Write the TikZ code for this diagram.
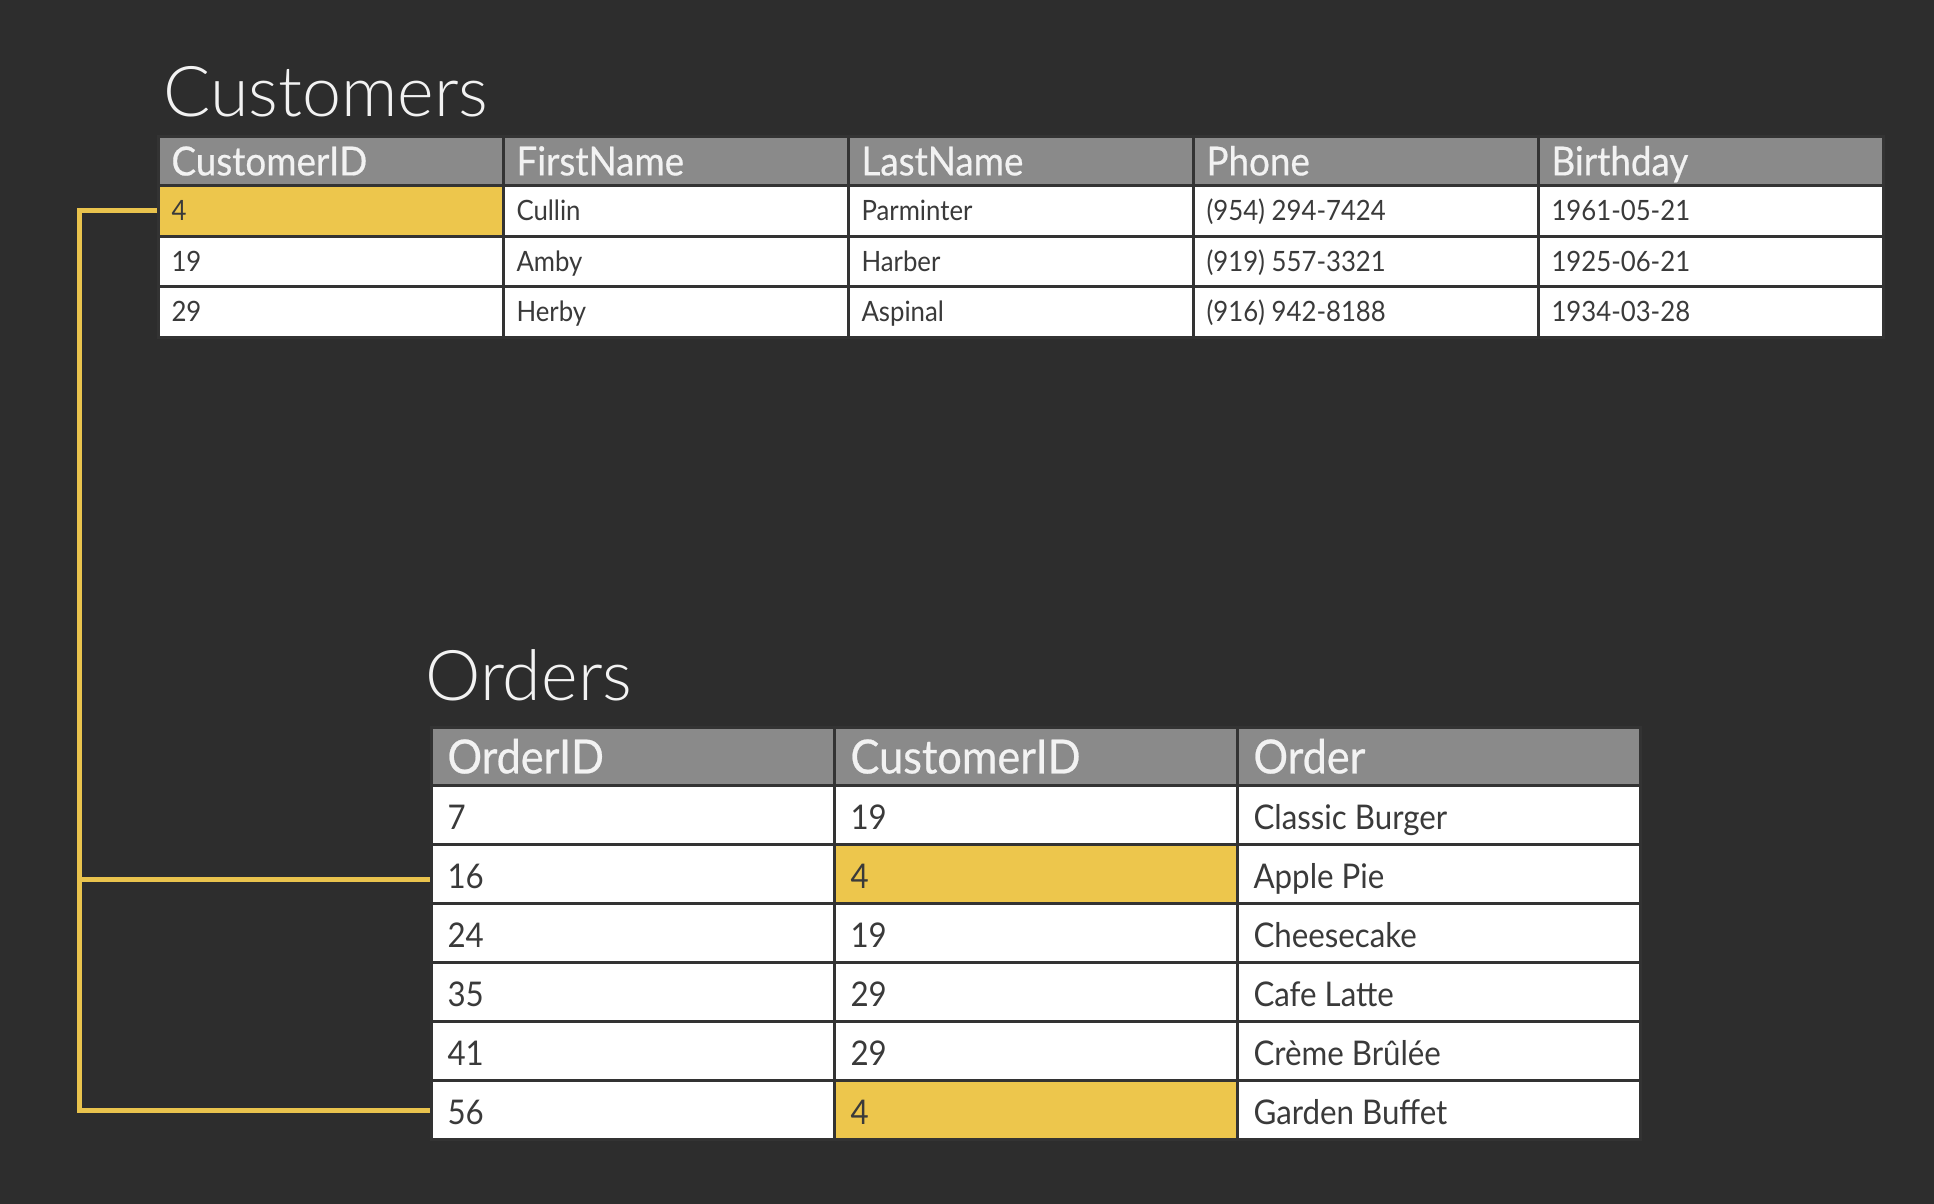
\documentclass[tikz,border=0pt]{standalone}
\usepackage{fontspec}
\setmainfont{Lato}
\newfontfamily\tabfont{Lato}[FakeStretch=0.92]
\newfontfamily\hdrfont{Lato}[FakeStretch=0.92,FakeBold=0.5]
\newfontfamily\titlefont{Lato}[UprightFont=* Light]
\definecolor{bg}{HTML}{2D2D2D}
\definecolor{hdr}{HTML}{8A8A8A}
\definecolor{gridc}{HTML}{333333}
\definecolor{hl}{HTML}{EDC64C}
\definecolor{txt}{HTML}{3A3A3A}
\definecolor{ttl}{HTML}{F2F2F2}
\definecolor{link}{HTML}{E9C34D}
\tikzset{
  tcell/.style={anchor=north west, inner ysep=0pt, draw=gridc,
    line width=1.5pt, text=txt, fill=white, text depth=0pt},
  cust/.style={tcell, inner xsep=6.5pt, minimum width=172.5pt,
    execute at begin node={\hbox to 159.5pt\bgroup},
    execute at end node={\hfil\egroup},
    minimum height=25.25pt, text height=10.1pt,
    font=\tabfont\fontsize{14}{16}\selectfont},
  custh/.style={cust, fill=hdr, text=ttl, minimum height=24.5pt, text height=14.4pt,
    font=\hdrfont\fontsize{20}{22}\selectfont},
  ord/.style={tcell, inner xsep=8pt, minimum width=201.5pt,
    execute at begin node={\hbox to 185.5pt\bgroup},
    execute at end node={\hfil\egroup},
    minimum height=29.5pt, text height=14.6pt,
    font=\tabfont\fontsize{17}{19}\selectfont},
  ordh/.style={ord, fill=hdr, text=ttl, minimum height=29pt, text height=16.9pt,
    font=\hdrfont\fontsize{23.5}{25}\selectfont},
  hot/.style={fill=hl},
  tabtitle/.style={anchor=base west, inner sep=0pt, text=ttl,
    font=\titlefont\fontsize{35}{40}\selectfont},
  linkline/.style={draw=link, line width=2.5pt}
}
\begin{document}
\begin{tikzpicture}[x=0.5pt,y=-0.5pt]
\fill[bg] (0,0) rectangle (1934,1204);
\useasboundingbox (0,0) rectangle (1934,1204);

% titles
\node[tabtitle] (ctitle) at (163,117) {Customers};
\node[tabtitle] (otitle) at (425,700) {Orders};

% Customers table
\node[custh] (ch1) at (157,135) {CustomerID};
\node[custh] (ch2) at (502,135) {FirstName};
\node[custh] (ch3) at (847,135) {LastName};
\node[custh] (ch4) at (1192,135) {Phone};
\node[custh] (ch5) at (1537,135) {Birthday};

\node[cust,hot] (c11) at (157,184) {4};
\node[cust] (c12) at (502,184) {Cullin};
\node[cust] (c13) at (847,184) {Parminter};
\node[cust] (c14) at (1192,184) {(954) 294-7424};
\node[cust] (c15) at (1537,184) {1961-05-21};

\node[cust] (c21) at (157,234.5) {19};
\node[cust] (c22) at (502,234.5) {Amby};
\node[cust] (c23) at (847,234.5) {Harber};
\node[cust] (c24) at (1192,234.5) {(919) 557-3321};
\node[cust] (c25) at (1537,234.5) {1925-06-21};

\node[cust] (c31) at (157,285) {29};
\node[cust] (c32) at (502,285) {Herby};
\node[cust] (c33) at (847,285) {Aspinal};
\node[cust] (c34) at (1192,285) {(916) 942-8188};
\node[cust] (c35) at (1537,285) {1934-03-28};

% Orders table
\node[ordh] (oh1) at (430,726) {OrderID};
\node[ordh] (oh2) at (833,726) {CustomerID};
\node[ordh] (oh3) at (1236,726) {Order};

\node[ord] (o11) at (430,784) {7};
\node[ord] (o12) at (833,784) {19};
\node[ord] (o13) at (1236,784) {Classic Burger};

\node[ord] (o21) at (430,843) {16};
\node[ord,hot] (o22) at (833,843) {4};
\node[ord] (o23) at (1236,843) {Apple Pie};

\node[ord] (o31) at (430,902) {24};
\node[ord] (o32) at (833,902) {19};
\node[ord] (o33) at (1236,902) {Cheesecake};

\node[ord] (o41) at (430,961) {35};
\node[ord] (o42) at (833,961) {29};
\node[ord] (o43) at (1236,961) {Cafe Latte};

\node[ord] (o51) at (430,1020) {41};
\node[ord] (o52) at (833,1020) {29};
\node[ord] (o53) at (1236,1020) {Crème Brûlée};

\node[ord] (o61) at (430,1079) {56};
\node[ord,hot] (o62) at (833,1079) {4};
\node[ord] (o63) at (1236,1079) {Garden Buffet};

% connectors
\coordinate (bus) at (79,0);
\draw[linkline] (c11.west) -- (c11.west -| bus) -- (o61.west -| bus) -- (o61.west);
\draw[linkline] ([yshift=-2.5pt]o21.west -| bus) -- ([yshift=-2.5pt]o21.west);
\end{tikzpicture}
\end{document}
